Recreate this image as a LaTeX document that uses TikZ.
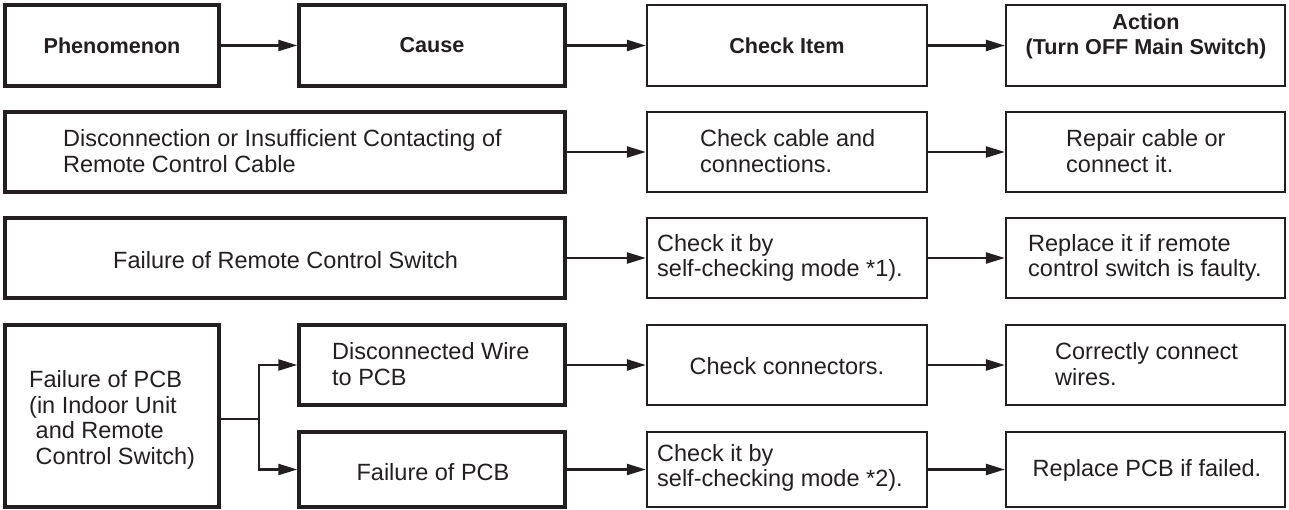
\documentclass[tikz,border=0pt]{standalone}
\usepackage{fontspec}
\setmainfont{Liberation Sans}
\usetikzlibrary{arrows.meta,fit}
\definecolor{ink}{HTML}{231F20}
\newcommand{\regf}{\fontsize{23.5}{25.5}\selectfont}
\newcommand{\boldf}{\fontsize{21.6}{25}\selectfont\bfseries}
\tikzset{
  bx/.style={draw=ink, line width=3.5pt, inner sep=0pt},
  tb/.style={draw=ink, line width=2.3pt, inner sep=0pt},
  txt/.style={inner sep=0pt, align=left, font=\regf, text=ink},
  ctxt/.style={inner sep=0pt, align=center, font=\regf, text=ink},
  htxt/.style={inner sep=0pt, align=center, font=\boldf, text=ink},
  arr/.style={-{Triangle[length=19pt,width=11pt]}, line width=2.4pt, draw=ink},
  ln/.style={line width=2.4pt, draw=ink},
}
\begin{document}
\begin{tikzpicture}[x=1pt,y=-1pt]
\useasboundingbox (0,0) rectangle (1289,510);
% header row
\node[bx, fit={(5,5) (219,86)}] (h1) {};
\node[bx, fit={(299,5) (565,86)}] (h2) {};
\node[tb, fit={(647,5) (927,86)}] (h3) {};
\node[tb, fit={(1006,5) (1285,86)}] (h4) {};
\node[htxt] (h1t) at (h1.center) {Phenomenon};
\node[htxt] (h2t) at (h2.center) {Cause};
\node[htxt] (h3t) at (h3.center) {Check Item};
\node[htxt] (h4t) at (1146,36) {Action\\(Turn OFF Main Switch)};
\draw[arr] (h1.east) -- (h2.west);
\draw[arr] (h2.east) -- (h3.west);
\draw[arr] (h3.east) -- (h4.west);
% row 2
\node[bx, fit={(5,112) (565,192)}] (c2) {};
\node[tb, fit={(647,112) (927,192)}] (k2) {};
\node[tb, fit={(1006,112) (1285,192)}] (a2) {};
\node[txt, anchor=west] (c2t) at (63,151) {Disconnection or Insufficient Contacting of\\Remote Control Cable};
\node[txt, anchor=west] (k2t) at (700,151) {Check cable and\\connections.};
\node[txt, anchor=west] (a2t) at (1066,151) {Repair cable or\\connect it.};
\draw[arr] (c2.east) -- (k2.west);
\draw[arr] (k2.east) -- (a2.west);
% row 3
\node[bx, fit={(5,218) (565,298)}] (c3) {};
\node[tb, fit={(647,218) (927,298)}] (k3) {};
\node[tb, fit={(1006,218) (1285,298)}] (a3) {};
\node[txt, anchor=west] (c3t) at (113,260) {Failure of Remote Control Switch};
\node[txt, anchor=west] (k3t) at (657,258) {Check it by\\self-checking mode *1).};
\node[txt, anchor=west] (a3t) at (1028,258) {Replace it if remote\\control switch is faulty.};
\draw[arr] (c3.east) -- (k3.west);
\draw[arr] (k3.east) -- (a3.west);
% row 4
\node[bx, fit={(5,325) (219,507)}] (p4) {};
\node[bx, fit={(299,325) (565,405)}] (c4a) {};
\node[bx, fit={(299,432) (565,507)}] (c4b) {};
\node[tb, fit={(647,325) (927,405)}] (k4a) {};
\node[tb, fit={(647,432) (927,507)}] (k4b) {};
\node[tb, fit={(1006,325) (1285,405)}] (a4a) {};
\node[tb, fit={(1006,432) (1285,507)}] (a4b) {};
\node[txt, anchor=west] (p4t) at (29,420) {Failure of PCB\\(in Indoor Unit\\\ and Remote\\\ Control Switch)};
\node[txt, anchor=west] (c4at) at (332,364) {Disconnected Wire\\to PCB};
\node[ctxt] (c4bt) at (433,472) {Failure of PCB};
\node[ctxt] (k4at) at (787,366) {Check connectors.};
\node[txt, anchor=west] (k4bt) at (657,468) {Check it by\\self-checking mode *2).};
\node[txt, anchor=west] (a4at) at (1055,364) {Correctly connect\\wires.};
\node[ctxt] (a4bt) at (1147,470) {Replace PCB if failed.};
\coordinate (br) at (259,419);
\draw[ln] (p4.east |- br) -- (br);
\draw[arr] (br) |- (c4a.west);
\draw[arr] (br) |- (c4b.west);
\draw[arr] (c4a.east) -- (k4a.west);
\draw[arr] (c4b.east) -- (k4b.west);
\draw[arr] (k4a.east) -- (a4a.west);
\draw[arr] (k4b.east) -- (a4b.west);
\end{tikzpicture}
\end{document}
